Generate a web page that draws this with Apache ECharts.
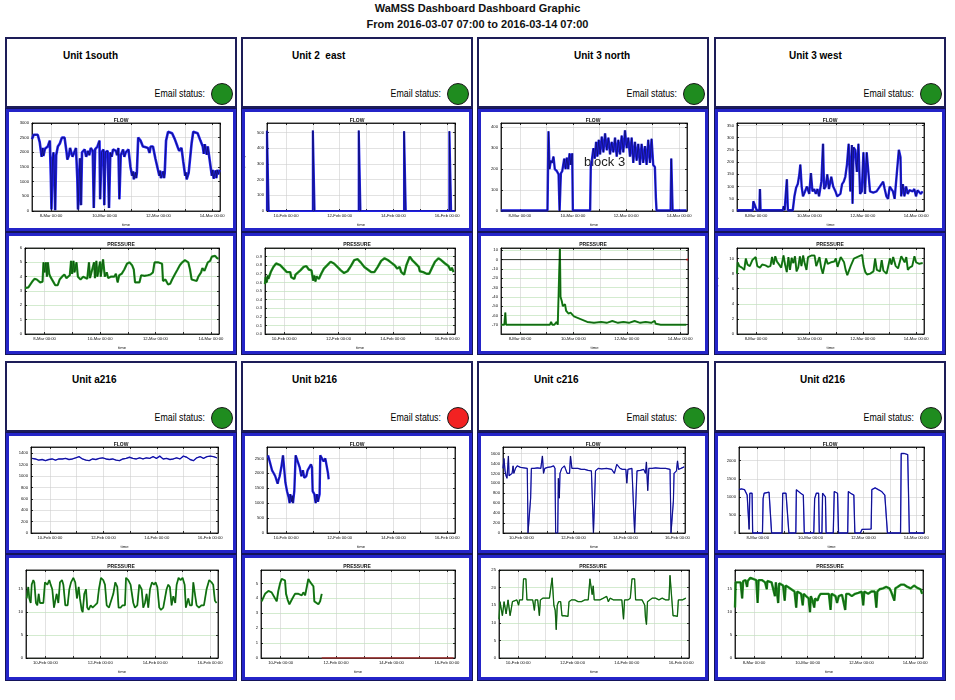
<!DOCTYPE html>
<html>
<head>
<meta charset="utf-8">
<title>WaMSS Dashboard</title>
<script src="https://cdn.jsdelivr.net/npm/echarts@6.0.0/dist/echarts.min.js"></script>
<style>
  html, body { margin: 0; padding: 0; background: #fff; }
  body { font-family: "Liberation Sans", Arial, sans-serif; width: 955px; height: 700px; position: relative; overflow: hidden; }
  .title { position: absolute; left: 0; width: 955px; text-align: center; font-weight: bold; font-size: 11px; line-height: 13px; color: #111; }
  .head { position: absolute; box-sizing: border-box; width: 232px; border: 2px solid #1d1d58; background: #fff; }
  .unit { position: absolute; top: 11px; font-size: 10px; line-height: 12px; font-weight: bold; white-space: pre; color: #000; }
  .email { position: absolute; right: 30px; top: 48px; font-size: 11px; line-height: 12px; transform: scaleX(0.8); transform-origin: right center; white-space: nowrap; color: #000; }
  .lamp { position: absolute; left: 204px; top: 44px; width: 20px; height: 20px; border-radius: 50%; border: 1px solid #1a1a1a; }
  .frame { position: absolute; box-sizing: border-box; width: 232px; border: 1px solid #14145a; background: #2424c8; padding: 3px; }
  .plot { width: 100%; height: 100%; background: #fff; }
</style>
</head>
<body>
<div class="title" style="top:2px">WaMSS Dashboard Dashboard Graphic</div>
<div class="title" style="top:18px">From 2016-03-07 07:00 to 2016-03-14 07:00</div>
<script>
const HOUR = 3600 * 1000;
const DAY = 24 * HOUR;
const SPAN_HOURS = 168;
const MAR_START = Date.UTC(2016, 2, 7, 7);
const FEB_START = Date.UTC(2016, 1, 9, 7);
const MONTHS = ["Jan", "Feb", "Mar", "Apr", "May", "Jun", "Jul", "Aug", "Sep", "Oct", "Nov", "Dec"];

const UNIT_NAMES = ["Unit 1south", "Unit 2  east", "Unit 3 north", "Unit 3 west",
  "Unit a216", "Unit b216", "Unit c216", "Unit d216"];
const EMAIL_STATUS = ["ok", "ok", "ok", "ok", "ok", "alert", "ok", "ok"];

// data points: [hours since start of window, value]
const U1_FLOW = [[0,2450],[1.5,2600],[3,2650],[5.1,2600],[6.9,2350],[8.1,2000],[8.6,1850],[9.6,2150],[10.2,1880],[11.1,1900],[11.6,2120],[12.3,2100],[14.1,2200],[15.9,2400],[16.8,1200],[17.4,50],[18.3,1700],[19.2,2000],[20.1,1000],[20.7,30],[21.6,1900],[23.1,2200],[24.9,2300],[26.7,2500],[29.1,2500],[30.9,2000],[31.6,1750],[33,1900],[34,2150],[35.1,2100],[36.2,1850],[37.5,1800],[39.3,2150],[40.5,1100],[41.1,50],[42,1000],[42.9,1800],[43.8,200],[44.7,2000],[47.1,2100],[48.4,1850],[50.1,2050],[51.2,1900],[52.5,2150],[54.3,2050],[55.2,100],[56.4,2100],[58.5,2200],[60.3,2400],[60.9,400],[62.1,2000],[63.9,2100],[64.6,200],[65.5,2000],[67.6,2050],[68.8,100],[70,2000],[71.2,1850],[72.4,2100],[75.1,2050],[76,1900],[77.2,2150],[78.1,400],[79.3,1900],[81.4,2100],[82.5,1850],[83.8,2000],[86.2,2100],[88,1500],[89.5,1200],[90.4,1350],[91,1080],[91.6,1100],[92.5,1320],[93.1,1120],[93.7,1300],[94.9,2500],[97,2400],[99.1,2200],[101,2180],[103.6,2150],[105,1980],[106,2200],[108.1,2200],[110.2,1800],[112,1500],[113.8,1200],[114.5,1380],[115.2,1120],[116.5,1100],[117.2,1350],[118,1120],[118.6,1300],[119.8,2400],[121.6,2700],[125.2,2650],[127.6,2450],[130,2200],[131.5,2050],[133.6,2150],[135.1,1700],[136.9,1200],[137.6,1320],[138.2,1080],[139,1050],[140,1300],[141.1,1250],[142.6,2300],[144.1,2700],[148,2650],[150.5,2400],[152.6,2200],[153.5,1950],[154.4,2280],[155.3,2100],[156.2,1920],[157.1,2200],[158.9,1700],[160.7,1200],[161.5,1400],[162.3,1100],[163.1,1100],[164,1380],[164.8,1120],[165.5,1400],[166.5,1250],[167.6,1400]];
const U1_PRESSURE = [[0,3.2],[2.9,3.25],[4.4,3.3],[6.7,3.7],[8.2,3.85],[10.2,3.8],[11.7,3.7],[13.1,3.6],[15.2,3.65],[16,5.0],[16.9,4.3],[18.1,5.0],[19,4.0],[19.8,5.0],[21,4.2],[21.9,4.0],[24.8,3.6],[26.2,3.4],[28.3,3.4],[30,3.8],[32.1,4.0],[34.1,4.15],[35.9,3.9],[37.3,4.0],[38.8,4.1],[39.9,5.1],[40.8,4.2],[42,5.1],[42.9,4.3],[44.6,5.0],[45.8,4.0],[48.1,3.8],[50.4,4.0],[53.9,3.85],[55.4,5.0],[56.3,3.9],[59.8,5.0],[60.6,3.9],[61.8,5.1],[62.7,4.0],[65,5.05],[65.6,4.0],[67.6,5.2],[69.1,4.0],[70.8,4.3],[72,3.9],[74.3,4.0],[77.3,4.0],[78.7,4.2],[80.2,3.6],[81.6,4.1],[83.7,4.2],[86,4.5],[88.3,4.9],[90.4,5.0],[92.7,4.8],[94.2,4.5],[95.3,3.6],[99.1,3.6],[100.6,4.1],[103.5,4.05],[106.4,4.1],[108.7,4.15],[110.8,4.3],[112.2,5.0],[115.2,5.0],[118.7,4.9],[119.5,3.7],[121.6,3.8],[123.9,3.45],[125.7,3.5],[127.4,3.8],[129.7,4.15],[132.1,4.5],[134.1,4.8],[136.2,5.0],[138.5,5.15],[141.4,5.0],[142.9,4.5],[144.3,3.8],[145.8,3.7],[148.7,3.7],[150.1,4.0],[152.5,4.3],[153.6,4.6],[155.4,4.4],[156.6,4.4],[158.3,5.0],[160.3,5.1],[161.8,5.4],[164.7,5.45],[166.2,5.3],[167.6,5.25]];

const U2_FLOW = [[0,0],[0,510],[1.5,510],[1.5,0],[41,0],[41,512],[42.5,512],[42.5,0],[82,0],[82,512],[83.5,512],[83.5,0],[122.5,0],[122.5,508],[124,508],[124,0],[163,0],[163,508],[164.5,508],[164.5,0],[168,0]];
const U2_PRESSURE = [[0,0.58],[0.6,0.66],[1.5,0.6],[2.4,0.68],[3,0.64],[5.1,0.72],[7.4,0.78],[9.8,0.82],[13.4,0.8],[16.4,0.76],[19.3,0.72],[22.3,0.72],[23.2,0.66],[24.4,0.68],[25.9,0.64],[27,0.69],[28.3,0.7],[31.3,0.74],[34.2,0.78],[36.6,0.79],[38.7,0.75],[41.1,0.74],[42.6,0.62],[43.5,0.68],[44.6,0.61],[45.5,0.67],[47.6,0.64],[49.7,0.7],[52.1,0.76],[55.1,0.8],[58,0.84],[61,0.82],[64,0.78],[67,0.74],[69.9,0.71],[72.9,0.73],[75.9,0.79],[78.9,0.86],[81.8,0.87],[84.8,0.83],[87.8,0.78],[90.8,0.75],[93.8,0.72],[96.7,0.72],[99.7,0.78],[102.7,0.85],[105.7,0.88],[108.6,0.86],[111.6,0.83],[114.6,0.8],[117,0.76],[119,0.78],[120.5,0.72],[122,0.74],[123,0.69],[125,0.8],[128,0.9],[130.1,0.86],[132.4,0.83],[136,0.78],[136.9,0.73],[139.9,0.72],[142.9,0.7],[145.2,0.7],[147.3,0.76],[150.3,0.84],[153.3,0.88],[155.7,0.86],[159.2,0.82],[162.2,0.79],[164,0.74],[165.2,0.77],[166.7,0.72]];

const U3N_FLOW = [[0,3],[42,3],[42.9,380],[43.8,200],[45,240],[46.2,230],[47.4,260],[48.6,200],[50.5,190],[52,175],[52.9,0],[53.5,0],[54.1,180],[55.3,190],[57.1,250],[58.3,200],[59.5,255],[60.7,200],[61.9,275],[63.1,220],[64.3,275],[64.9,3],[80.5,3],[81.1,210],[82,240],[83.5,300],[84.7,250],[85.9,330],[87.1,260],[88.3,340],[89.5,270],[91,355],[92.5,280],[94,370],[95.5,290],[97,350],[98.5,270],[100,330],[101.5,280],[103,350],[104.5,260],[106,340],[107.5,270],[109,360],[110.5,280],[112,385],[113.5,300],[115,350],[116.5,260],[118,350],[119.5,230],[121,330],[122.5,240],[124,320],[125.5,220],[127,320],[128.5,230],[130,310],[131.5,220],[133,340],[134.5,230],[136,345],[137.5,220],[139,210],[139.9,60],[140.5,3],[153.2,3],[153.8,250],[154.7,60],[155,3],[167.6,3]];
const U3N_PRESSURE = [[0,-70],[3,-70],[3.9,-57],[4.5,-70],[42,-70],[43,-68],[44,-70],[45,-67],[46,-70],[47,-68],[48,-70],[50,-67],[51,-70],[52.3,-70],[52.9,12],[53.5,-40],[54.7,-45],[55.5,-50],[56.5,-52],[57.5,-48],[58.5,-55],[59.5,-54],[60.7,-58],[62.5,-57],[65.5,-61],[71.5,-64],[77.5,-67],[83.5,-68],[90,-67],[95,-68],[100,-66],[105,-68],[110,-67],[115,-68],[120,-66],[125,-68],[130,-67],[135,-68],[138,-66],[139,-69],[143.5,-70],[166.5,-70]];
const U3N_ZERO = [[0,0],[166.5,0]];
const U3N_MARK = [[166.5,0],[168,0]];

const U3W_FLOW = [[0,3],[14.2,3],[14.7,40],[16.2,45],[17.7,3],[20.1,3],[20.6,90],[21.2,3],[41.3,3],[41.9,20],[42.8,3],[44.2,3],[44.8,130],[45.7,3],[50.1,3],[51.6,60],[53.1,95],[54.6,110],[56,150],[56.9,190],[58.1,100],[59.3,60],[61.1,80],[62.8,100],[64.9,70],[66.4,155],[67.8,80],[69.3,90],[70.8,70],[72.3,90],[73.7,60],[75.8,120],[77.3,275],[78.2,90],[79.6,100],[81.1,150],[82.6,90],[84.7,140],[86.4,100],[88.5,80],[90,60],[91.4,60],[92.9,70],[94.4,110],[95.9,120],[97.3,140],[98.8,190],[100.3,275],[100.9,270],[101.8,80],[103.2,270],[103.8,30],[104.7,260],[106.2,250],[107.7,160],[109.1,275],[110.6,70],[112.1,80],[113.6,240],[115,70],[116.5,240],[118,240],[119.5,80],[122.4,75],[125.4,80],[128.3,100],[131.3,120],[132.7,90],[134.2,60],[135.7,50],[137.2,100],[138.6,90],[140.1,80],[141.6,50],[143.1,50],[145.4,250],[146.9,220],[147.5,60],[149,110],[150.4,60],[151.9,100],[153.4,70],[154.9,85],[157.8,80],[159.3,90],[160.8,60],[162.2,85],[163.7,80],[165.2,70],[166.7,80]];
const U3W_PRESSURE = [[0,8],[0.6,9.5],[2.1,9],[4.4,8.8],[6.5,8.5],[7.9,10],[9.4,9.2],[11.5,9.0],[13.8,9.8],[15.3,9.6],[16.8,10.2],[18.2,9.0],[20.6,8.8],[22.6,9.2],[25.6,9.1],[27.9,8.9],[30,9.0],[31.5,10.2],[32.9,9.2],[34.4,10.3],[35.9,9.6],[37.4,9.3],[39.7,8.8],[41.8,10.4],[43.2,9.2],[44.7,8.2],[46.2,10.2],[47.6,8.5],[49.1,10.1],[50.6,9.4],[52.1,10.3],[53.5,8.3],[55,8.8],[56.5,10.3],[57.9,9.0],[59.4,10.4],[60.9,9.3],[62.4,8.5],[63.8,10.2],[66.8,10.4],[69.7,10.4],[71.2,9.0],[72.6,9.2],[74.1,10.2],[75.6,8.8],[77.1,8.0],[78.5,9.0],[80,10.0],[81.5,9.3],[84.4,9.5],[87.4,9.6],[88.8,10.0],[90.3,8.9],[91.8,9.0],[93.2,10.2],[96.2,9.5],[97.6,8.5],[99.1,7.8],[100.6,7.7],[102.1,9.0],[105,10.0],[107.9,10.2],[109.4,10.4],[112.4,10.5],[113.8,9.0],[115.3,8.2],[116.8,7.9],[119.7,8.0],[122.6,8.3],[124.1,10.0],[125.6,8.5],[128.5,8.3],[130,9.8],[131.5,8.4],[134.4,8.0],[137.4,10.0],[138.8,9.2],[140.3,10.2],[142.6,9.0],[144.7,8.7],[147.6,10.3],[149.1,10.4],[150.6,9.5],[152.1,10.2],[153.5,8.5],[155,8.8],[157.4,9.0],[159.4,10.3],[160.9,9.5],[163.8,9.3],[166.8,9.4]];

const A216_FLOW = [[0.9,1310],[3.9,1300],[6.9,1280],[10,1290],[13,1270],[16,1290],[19,1300],[22,1280],[25,1300],[28.1,1300],[31.1,1310],[34.1,1290],[37.2,1300],[40.2,1320],[43.2,1340],[46.2,1300],[49.3,1280],[52.3,1270],[55.3,1300],[58.3,1290],[61.3,1310],[64.4,1320],[67.4,1300],[70.4,1290],[73.4,1300],[76.4,1280],[79.5,1270],[82.5,1300],[85.5,1310],[88.5,1330],[91.5,1310],[94.6,1300],[97.6,1320],[100.6,1300],[103.6,1320],[106.6,1310],[109.7,1340],[112.7,1310],[115.7,1350],[118.7,1300],[121.8,1310],[124.8,1290],[127.8,1300],[130.8,1320],[133.8,1300],[136.9,1350],[139.9,1330],[142.9,1290],[145.9,1270],[148.9,1320],[152,1340],[155,1310],[158,1340],[161,1350],[164,1340],[167.1,1320]];
const A216_PRESSURE = [[0.6,13],[2,15.5],[2.9,13],[4.1,12],[5,16],[6.4,17],[7.3,16.5],[8.7,12],[9.9,11.5],[11.1,14],[12.2,12],[13.4,11.8],[15.2,12],[16.6,16.5],[18.7,16],[20.4,17],[21.6,16],[23,15],[24.5,11],[25.7,11],[26.8,14],[28.3,12],[29.7,16.5],[31.5,17],[32.7,16],[34.4,11.5],[36.4,11.5],[37.9,15],[39.4,16.5],[41.4,17.5],[43.1,16.5],[44.6,13],[46.1,15.5],[47.2,13],[48.7,10.5],[49.6,10],[51,14],[52.5,15],[53.6,11],[54.8,10.5],[56.6,11.5],[58.3,11],[60.3,11.5],[62.4,12],[63.8,15],[65.6,17.5],[67.6,17],[69.1,16],[70.6,11.5],[72.6,11],[74.3,11.3],[76.4,14],[78.1,16.5],[79.9,15.5],[81,11],[82.8,11],[84.5,11.5],[86.6,11.5],[87.5,17.5],[89.5,17],[91.5,16],[92.4,14.5],[93.9,12],[95.3,11],[97.4,11.5],[99.1,16],[101.2,15],[102.6,11],[104.1,12],[105.5,14],[107,11],[108.5,15],[110.2,16.5],[112,16],[113.4,16.5],[114.9,15.5],[116.6,11],[118.1,10.5],[120.1,11],[121.6,11],[123,15],[124.5,16],[125.9,15.5],[127.4,11.5],[128.9,13.5],[130.6,12],[131.8,16],[133.5,17.5],[135.3,17],[137,17.5],[138.8,16],[139.9,11],[142,13],[143.4,11.5],[145.2,11.5],[146.4,16.5],[147.8,14],[149.3,11.5],[151.3,11],[153.6,11.5],[155.7,11.5],[158,15],[160.3,17],[162.4,16.5],[163.8,16],[165.3,12.5],[166.8,12]];

const B216_FLOW = [[0.9,2600],[2.4,2400],[4.5,2100],[6,2000],[7.4,1900],[8.9,1900],[9.5,1650],[10.1,1750],[11.3,1900],[12.8,2200],[14.3,2600],[15.5,2600],[16.4,1700],[17.9,1400],[19.3,1200],[20.2,1000],[20.8,1300],[22,1050],[22.6,1250],[23.2,1000],[24.4,1400],[25.6,2600],[26.8,2550],[28.3,2300],[29.2,2200],[30.7,1900],[32.1,2100],[33.3,1850],[35.1,1900],[36.3,2100],[37.8,2050],[39.3,2300],[40.2,2200],[40.8,1400],[42.3,1300],[43.5,1000],[44.6,1300],[45.5,1050],[47,1300],[47.6,2600],[49.1,2550],[50.6,2400],[52.1,2500],[53.6,2500],[54.5,2000],[55.1,1800]];
const B216_PRESSURE = [[0.6,3.8],[2,3.9],[3.5,4.3],[4.9,4.4],[6.4,4.5],[7.8,4.55],[9.2,4.4],[10.7,4.3],[12.1,4.0],[13.6,3.8],[15,4.5],[16.5,5.0],[17.9,5.3],[19.4,5.3],[20.8,5.2],[21.7,4.3],[23.1,3.9],[24.6,3.6],[26.6,3.9],[28,4.1],[29.5,4.3],[30.9,4.2],[32.4,4.3],[33.8,4.4],[35.3,4.2],[36.7,4.4],[38.2,4.2],[39.6,4.3],[41,5.3],[42.5,5.1],[43.9,5.0],[45.4,4.8],[46.2,3.8],[47.7,3.7],[49.7,3.6],[51.2,3.8],[52.6,4.3]];
const B216_OFFLINE = [[52.6,0],[166.7,0]];

const C216_FLOW = [[0,1300],[0.9,1500],[1.9,1250],[2.8,1150],[3.7,1100],[5,1550],[5.6,1150],[6.9,1150],[8.4,1200],[9.3,1350],[10,1200],[11.5,1300],[13.1,1350],[14.6,1330],[16.2,1320],[19.3,1310],[22.4,1300],[23.1,0],[24.9,0],[25.5,700],[26.2,1300],[28.7,1300],[31.8,1310],[34.9,1300],[36.4,1550],[37.4,1200],[38.6,1300],[41.1,1320],[44.2,1330],[46.7,1350],[48,1300],[48.6,0],[50.5,0],[51.1,1100],[52,700],[52.6,1200],[54.2,1300],[56.7,1350],[59.2,1200],[61.4,1200],[62.3,1550],[63.6,1300],[66,1300],[69.2,1300],[72.3,1280],[75.4,1280],[78.5,1260],[81.6,1250],[82.6,1280],[83.5,0],[84.7,0],[85.4,1250],[87.9,1300],[91,1290],[95.6,1300],[100.3,1280],[102.8,1200],[105,1380],[106.5,1380],[108.1,1300],[110.3,1280],[113.4,1280],[114.3,1000],[115.3,1280],[119,1300],[120.6,1270],[121.5,0],[123.1,0],[123.7,1250],[126.8,1260],[129.9,1280],[131.5,1200],[132.4,1430],[133.6,850],[134.6,1300],[137.7,1300],[140.8,1310],[145.5,1300],[150.2,1300],[154.2,1280],[155.1,0],[156.4,0],[157.3,650],[157.9,1200],[160.1,1250],[161.1,1450],[162,1280],[164.2,1300],[167.3,1330]];
const C216_PRESSURE = [[0,11],[0.9,16],[2.1,16.5],[3,12],[3.9,12],[4.5,16],[5.4,16.5],[6.3,12.5],[7.1,12],[8,16.5],[8.9,16],[9.8,12],[11,12],[11.9,16],[13.4,16.5],[15.8,16.5],[17.3,15],[18.2,16.5],[19.3,17],[20.8,16.5],[21.7,22.5],[23.8,22.5],[24.7,16.5],[26.8,16.5],[29.8,16.5],[31.3,13.5],[32.1,16.5],[34.2,16.5],[35.7,12],[36.6,16.5],[38.7,17],[41.7,17],[44.6,17],[46.1,17],[47,22.8],[47.9,18],[48.5,15],[49.7,13.5],[50.6,8],[51.5,15],[52.7,16],[54.5,16],[55.7,12],[58,12],[61,11.8],[61.9,16],[64,16.5],[67,16.5],[69.9,16],[72.9,16],[75.9,16.5],[78.9,16.5],[80.4,22.5],[81.8,22],[82.4,18],[83.3,20.5],[84.2,16.5],[86.3,16.5],[89.3,16.5],[92.3,17],[95.2,17.5],[96.7,16],[98.2,17],[101.2,16.5],[104.2,16.5],[108.6,16.5],[110.1,11],[111,16.5],[114,16.5],[116.1,17],[117.6,22.5],[119.9,22.5],[120.8,16.5],[123.5,16.5],[126.5,16.5],[128.9,15],[129.5,11.5],[130.4,9.5],[131.3,16],[133,16.5],[135.4,17],[138.4,17],[141.4,16.5],[144.3,17],[147.3,16.5],[150.3,16.5],[151.2,23.5],[152.7,23],[153.9,12],[155.7,12],[157.7,11.8],[158.6,16.5],[162.2,16.5],[165.2,17]];

const D216_FLOW = [[0,1200],[2.1,1220],[5,1200],[6.5,1170],[7.4,1050],[8.6,1050],[9.2,100],[9.8,1100],[10.4,1150],[11.9,1100],[12.4,0],[21.3,0],[21.9,950],[22.8,1100],[24.3,1150],[27.3,1130],[28.7,1100],[29.6,0],[39.1,0],[39.7,1100],[41.2,1150],[42.7,1100],[43.6,1150],[44.4,1050],[45.3,0],[51.6,0],[52.1,1200],[53.9,1150],[56,1100],[56.9,1150],[58.4,1050],[59.3,0],[67.9,0],[68.7,950],[70.2,1100],[72.3,1100],[72.9,0],[75.3,0],[75.9,1100],[77.6,1050],[78.5,1000],[79.1,0],[85.6,0],[86.5,1150],[88,1100],[89.5,1100],[90.4,0],[98.7,0],[99.3,1150],[101.3,1100],[102.8,1100],[104.3,1050],[105.2,0],[110.2,0],[111.7,100],[120,110],[120.6,1200],[123.6,1250],[126.5,1200],[129.5,1150],[132.4,1050],[133.9,1000],[134.8,0],[146.7,0],[147.3,2200],[150.2,2200],[153.2,2170],[154.1,2150],[154.7,0],[168,0]];
const D216_PRESSURE = [[0,11],[0.6,16.5],[2,16.8],[5,16.5],[6.4,13],[7.3,16.8],[9.4,17],[10.8,15.5],[11.4,16.8],[13.7,17.5],[16.7,17.2],[19,17],[20.2,12],[21.1,17],[24,17],[26.9,16.5],[28.4,15],[28.9,16.8],[32.7,16.5],[34.2,16.5],[35.7,13.5],[36.5,16.5],[38.6,12],[39.5,16.3],[43,15.8],[44.4,12.5],[45.3,15.8],[47.4,15.5],[50.3,15],[53.2,14.5],[54.7,11],[55.6,14.5],[59.1,14],[60.5,11.5],[61.4,14],[63.5,13.5],[65.8,13],[67,10],[67.8,13.5],[69.3,12.5],[70.8,11],[71.6,13],[73.7,12.5],[75.1,13.5],[76.6,14],[78.1,14.3],[81,14],[83.9,14],[85.4,10.5],[86.3,14],[89.8,13.5],[91.2,12],[92.7,13.5],[95.6,13.8],[98.5,10.5],[99.4,14],[101.5,14],[104.4,13.5],[107.3,14],[110.2,14.2],[113.2,14.5],[114.6,11.5],[115.5,14.5],[119,14],[121.9,14.5],[124.9,14.5],[126.3,11],[127.2,14.5],[129.2,15],[132.2,15.2],[135.1,15.5],[138,15.2],[139.5,14.5],[142.4,12.5],[143.3,15.2],[145.3,15.5],[148.2,16],[151.2,16],[154.1,15.5],[157,15.2],[160,15.8],[162.9,15.3],[165.8,15],[167.3,14]];

// y axes: [min, max, interval]
const U1_FLOW_Y = [0, 3000, 500];
const U1_PRESSURE_Y = [0, 6, 1];
const U2_FLOW_Y = [0, 560, 100];
const U2_PRESSURE_Y = [0, 1, 0.1];
const U3N_FLOW_Y = [0, 420, 100];
const U3N_PRESSURE_Y = [-80, 12.5, 10];
const U3W_FLOW_Y = [0, 360, 50];
const U3W_PRESSURE_Y = [0, 11.4, 2];
const A216_FLOW_Y = [0, 1510, 200];
const A216_PRESSURE_Y = [0, 19.2, 5];
const B216_FLOW_Y = [0, 2880, 500];
const B216_PRESSURE_Y = [0, 5.9, 1];
const C216_FLOW_Y = [0, 1730, 200];
const C216_PRESSURE_Y = [0, 25, 5];
const D216_FLOW_Y = [0, 2380, 500];
const D216_PRESSURE_Y = [0, 19.2, 5];

const PANEL_LEFT = [5, 241, 477, 714];
const ROWS = [
  { head: 37, flow: 108, pres: 232, end: 355, presBottom: 17 },
  { head: 361, flow: 432, pres: 554, end: 681, presBottom: 19 },
];
const NAME_LEFT = [56, 49, 95, 73, 65, 49, 55, 84];

const BLUE = "#2222f2";
const NAVY = "#0a0a3c";
const GREEN = "#1f941f";
const DARK_GREEN = "#0b3a0b";

const UNITS = [
  { start: MAR_START,
    flow: { data: U1_FLOW, y: U1_FLOW_Y, left: 23, right: 13, band: 2.6, showMax: true },
    pres: { data: U1_PRESSURE, y: U1_PRESSURE_Y, left: 16, right: 14, band: 2.2, showMax: true } },
  { start: FEB_START,
    flow: { data: U2_FLOW, y: U2_FLOW_Y, left: 22, right: 14, band: 2.2 },
    pres: { data: U2_PRESSURE, y: U2_PRESSURE_Y, left: 20, right: 14, band: 2.4, decimals: 1 } },
  { start: MAR_START,
    flow: { data: U3N_FLOW, y: U3N_FLOW_Y, left: 20, right: 18, band: 2.4, note: "block 3" },
    pres: { data: U3N_PRESSURE, y: U3N_PRESSURE_Y, left: 20, right: 17, band: 2, hideMin: true,
      extra: [{ data: U3N_ZERO, color: "#000", width: 0.8 }, { data: U3N_MARK, color: "#c01010", width: 1.6 }] } },
  { start: MAR_START,
    flow: { data: U3W_FLOW, y: U3W_FLOW_Y, left: 19, right: 18, band: 2.4 },
    pres: { data: U3W_PRESSURE, y: U3W_PRESSURE_Y, left: 19, right: 18, band: 2 } },
  { start: FEB_START,
    flow: { data: A216_FLOW, y: A216_FLOW_Y, left: 22, right: 15, band: 1.4 },
    pres: { data: A216_PRESSURE, y: A216_PRESSURE_Y, left: 17, right: 15, band: 1.8 } },
  { start: FEB_START,
    flow: { data: B216_FLOW, y: B216_FLOW_Y, left: 22, right: 14, band: 2.4 },
    pres: { data: B216_PRESSURE, y: B216_PRESSURE_Y, left: 16, right: 14, band: 2,
      extra: [{ data: B216_OFFLINE, color: "#a83030", width: 1.4 }] } },
  { start: FEB_START,
    flow: { data: C216_FLOW, y: C216_FLOW_Y, left: 22, right: 20, band: 1.2 },
    pres: { data: C216_PRESSURE, y: C216_PRESSURE_Y, left: 18, right: 16, band: 1.3, showMax: true } },
  { start: MAR_START,
    flow: { data: D216_FLOW, y: D216_FLOW_Y, left: 21, right: 18, band: 1.3 },
    pres: { data: D216_PRESSURE, y: D216_PRESSURE_Y, left: 17, right: 19, band: 2.4 } },
];

function dayLabel(value) {
  const d = new Date(value);
  if (d.getUTCHours() !== 0 || d.getUTCMinutes() !== 0 || d.getUTCDate() % 2) return "";
  return `${d.getUTCDate()}-${MONTHS[d.getUTCMonth()]} 00:00`;
}

function buildChart(el, spec) {
  const chart = echarts.init(el, null, { renderer: "canvas" });
  const isFlow = spec.kind === "flow";
  const [yMin, yMax, yStep] = spec.y;
  const toTime = (pts) => pts.map(([h, v]) => [spec.start + h * HOUR, v]);
  const small = { fontFamily: "Liberation Sans", fontSize: 4.2, color: "#111" };
  const black = { color: "#000", width: 0.8 };
  const xMin = spec.start;
  const xMax = spec.start + SPAN_HOURS * HOUR;
  const xBase = {
    type: "time", min: xMin, max: xMax, minInterval: DAY, maxInterval: DAY,
    axisLine: { show: true, onZero: false, lineStyle: black },
    axisTick: { show: true, inside: true, length: 2, lineStyle: black },
  };
  const yBase = {
    type: "value", min: yMin, max: yMax, interval: yStep,
    axisLine: { show: true, onZero: false, lineStyle: black },
    axisTick: { show: true, inside: true, length: 2, lineStyle: black },
  };

  const line = (data, color, width, z) => ({
    type: "line", data: toTime(data), showSymbol: false, silent: true, z,
    lineStyle: { color, width }, emphasis: { disabled: true },
  });
  const series = [
    line(spec.data, isFlow ? BLUE : GREEN, spec.band, 2),
    line(spec.data, isFlow ? NAVY : DARK_GREEN, 0.6, 3),
  ];
  for (const extra of spec.extra || []) {
    series.push(line(extra.data, extra.color, extra.width, 4));
  }

  const graphic = spec.note
    ? [{ type: "text", left: 103, top: 44, z: 1,
        style: { text: spec.note, font: "13px 'Liberation Sans'", fill: "#222" } }]
    : [];

  chart.setOption({
    animation: false,
    useUTC: true,
    title: {
      text: isFlow ? "FLOW" : "PRESSURE", left: "center", top: 1,
      textStyle: { fontFamily: "Liberation Sans", fontSize: 5, fontWeight: "bold", color: "#111" },
    },
    grid: {
      left: spec.left, right: spec.right, top: isFlow ? 11 : 12, bottom: spec.bottom,
      show: true, borderColor: "#000", borderWidth: 0.8, backgroundColor: "transparent",
      outerBoundsMode: "none",
    },
    xAxis: [
      {
        ...xBase, position: "bottom",
        name: "time", nameLocation: "middle", nameGap: 10, nameTextStyle: small,
        axisLabel: { ...small, margin: 3, interval: 0, showMinLabel: false, formatter: dayLabel },
        splitLine: { show: true, lineStyle: { color: "#cfcfcf", width: 0.6 } },
      },
      { ...xBase, position: "top", axisLabel: { show: false }, splitLine: { show: false } },
    ],
    yAxis: [
      {
        ...yBase, position: "left",
        name: isFlow ? "Flow (m3/h)" : "Pressure (Bar)", nameLocation: "middle",
        nameGap: spec.left - 6, nameRotate: 90, nameTextStyle: small,
        axisLabel: {
          ...small, margin: 3,
          showMaxLabel: !!spec.showMax, showMinLabel: !spec.hideMin,
          formatter: (v) => (spec.decimals ? v.toFixed(spec.decimals) : String(Math.round(v))),
        },
        splitLine: { show: true, lineStyle: { color: isFlow ? "#cfcfcf" : "#b6deae", width: 0.6 } },
      },
      { ...yBase, position: "right", axisLabel: { show: false }, splitLine: { show: false } },
    ],
    graphic,
    series,
  });
  return chart;
}

function addBox(cls, left, top, height) {
  const div = document.createElement("div");
  div.className = cls;
  div.style.left = left + "px";
  div.style.top = top + "px";
  div.style.height = height + "px";
  document.body.appendChild(div);
  return div;
}

UNITS.forEach((unit, i) => {
  const left = PANEL_LEFT[i % 4];
  const row = ROWS[Math.floor(i / 4)];

  const head = addBox("head", left, row.head, row.flow - row.head);
  const name = document.createElement("div");
  name.className = "unit";
  name.style.left = NAME_LEFT[i] + "px";
  name.textContent = UNIT_NAMES[i];
  head.appendChild(name);
  const email = document.createElement("div");
  email.className = "email";
  email.textContent = "Email status:";
  head.appendChild(email);
  const lamp = document.createElement("div");
  lamp.className = "lamp";
  lamp.style.background = EMAIL_STATUS[i] === "ok" ? "#1f8c1f" : "#f22222";
  head.appendChild(lamp);

  const flowFrame = addBox("frame", left, row.flow, row.pres - row.flow);
  const flowPlot = document.createElement("div");
  flowPlot.className = "plot";
  flowFrame.appendChild(flowPlot);
  buildChart(flowPlot, { ...unit.flow, kind: "flow", start: unit.start, bottom: 17 });

  const presFrame = addBox("frame", left, row.pres, row.end - row.pres);
  const presPlot = document.createElement("div");
  presPlot.className = "plot";
  presFrame.appendChild(presPlot);
  buildChart(presPlot, { ...unit.pres, kind: "pressure", start: unit.start, bottom: row.presBottom });
});
</script>
</body>
</html>
